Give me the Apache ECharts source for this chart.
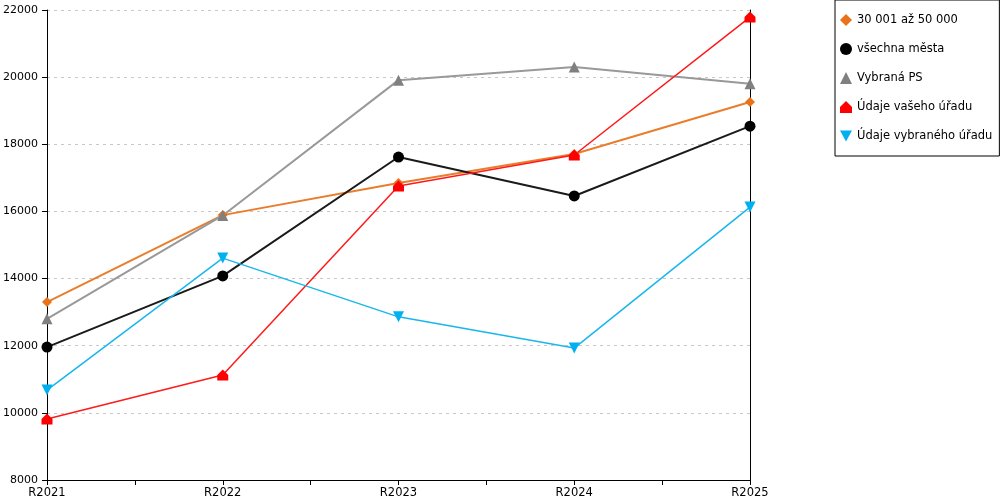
<!DOCTYPE html>
<html>
<head>
<meta charset="utf-8">
<script src="https://cdn.jsdelivr.net/npm/echarts@6/dist/echarts.min.js"></script>
<style>
  html, body { margin: 0; padding: 0; background: #fff; }
  #chart { width: 1000px; height: 500px; }
</style>
</head>
<body>
<div id="chart"></div>
<script>
const years = ['R2021', 'R2022', 'R2023', 'R2024', 'R2025']

const size30to50 = [13300, 15890, 16850, 17710, 19260]
const allCities = [11960, 14080, 17620, 16460, 18540]
const selectedPS = [12800, 15880, 19910, 20300, 19800]
const yourOffice = [9820, 11130, 16760, 17680, 21790]
const selectedOffice = [10680, 14610, 12860, 11930, 16130]

const yTicks = { min: 8000, max: 22000, interval: 2000 }

const HOUSE = 'path://M0,5 L5,0 L10,5 L10,10 L0,10 Z'
const DOWN = 'path://M0,0 L10,0 L5,9 Z'
const FONT = 'DejaVu Sans'

const seriesDefs = [
  { name: '30 001 až 50 000', data: size30to50, color: '#e8731b', line: '#ea7d2c', symbol: 'diamond', size: 10, width: 2 },
  { name: 'všechna města', data: allCities, color: '#000000', line: '#1a1a1a', symbol: 'circle', size: 11, width: 2 },
  { name: 'Vybraná PS', data: selectedPS, color: '#808080', line: '#999999', symbol: 'triangle', size: 11, width: 2 },
  { name: 'Údaje vašeho úřadu', data: yourOffice, color: '#ff0000', line: '#ff1a1a', symbol: HOUSE, size: 11, width: 1.5 },
  { name: 'Údaje vybraného úřadu', data: selectedOffice, color: '#00b0f0', line: '#19b6ee', symbol: DOWN, size: 11, width: 1.5 }
]

const chart = echarts.init(document.getElementById('chart'))

chart.setOption({
  animation: false,
  textStyle: { fontFamily: FONT },
  grid: { left: 47, right: 250, top: 10, bottom: 20, containLabel: false },
  legend: {
    orient: 'vertical',
    left: 835,
    top: 0,
    padding: [14, 7, 14, 5],
    itemGap: 17,
    itemWidth: 12,
    itemHeight: 12,
    borderColor: '#000',
    borderWidth: 1,
    textStyle: { fontFamily: FONT, fontSize: 11.5, color: '#000' },
    data: seriesDefs.map((s) => ({ name: s.name, icon: s.symbol }))
  },
  xAxis: [
    {
      type: 'category',
      data: years,
      boundaryGap: false,
      axisLine: { lineStyle: { color: '#000', width: 1 } },
      axisTick: { show: false },
      axisLabel: { color: '#000', fontSize: 11.5, fontFamily: FONT, margin: 7 },
      splitLine: { show: false }
    },
    {
      type: 'category',
      position: 'bottom',
      data: ['', '', '', '', '', '', '', ''],
      boundaryGap: true,
      axisLine: { show: false },
      axisTick: { show: true, length: 5, lineStyle: { color: '#000' } },
      axisLabel: { show: false }
    }
  ],
  yAxis: [
    {
      type: 'value',
      min: yTicks.min,
      max: yTicks.max,
      interval: yTicks.interval,
      axisLine: { show: true, lineStyle: { color: '#000', width: 1 } },
      axisTick: { show: true, length: 5, lineStyle: { color: '#000' } },
      axisLabel: { color: '#000', fontSize: 11, fontFamily: FONT, margin: 9, formatter: (v) => String(v) },
      splitLine: { show: true, lineStyle: { color: '#c8c8c8', type: [3, 4] } }
    },
    {
      type: 'value',
      position: 'right',
      min: yTicks.min,
      max: yTicks.max,
      interval: yTicks.interval,
      axisLine: { show: true, lineStyle: { color: '#000', width: 1 } },
      axisTick: { show: false },
      axisLabel: { show: false },
      splitLine: { show: false }
    }
  ],
  series: seriesDefs.map((s) => ({
    name: s.name,
    type: 'line',
    data: s.data,
    symbol: s.symbol,
    symbolSize: s.size,
    showAllSymbol: true,
    itemStyle: { color: s.color },
    lineStyle: { color: s.line, width: s.width },
    emphasis: { disabled: true }
  }))
})
</script>
</body>
</html>
